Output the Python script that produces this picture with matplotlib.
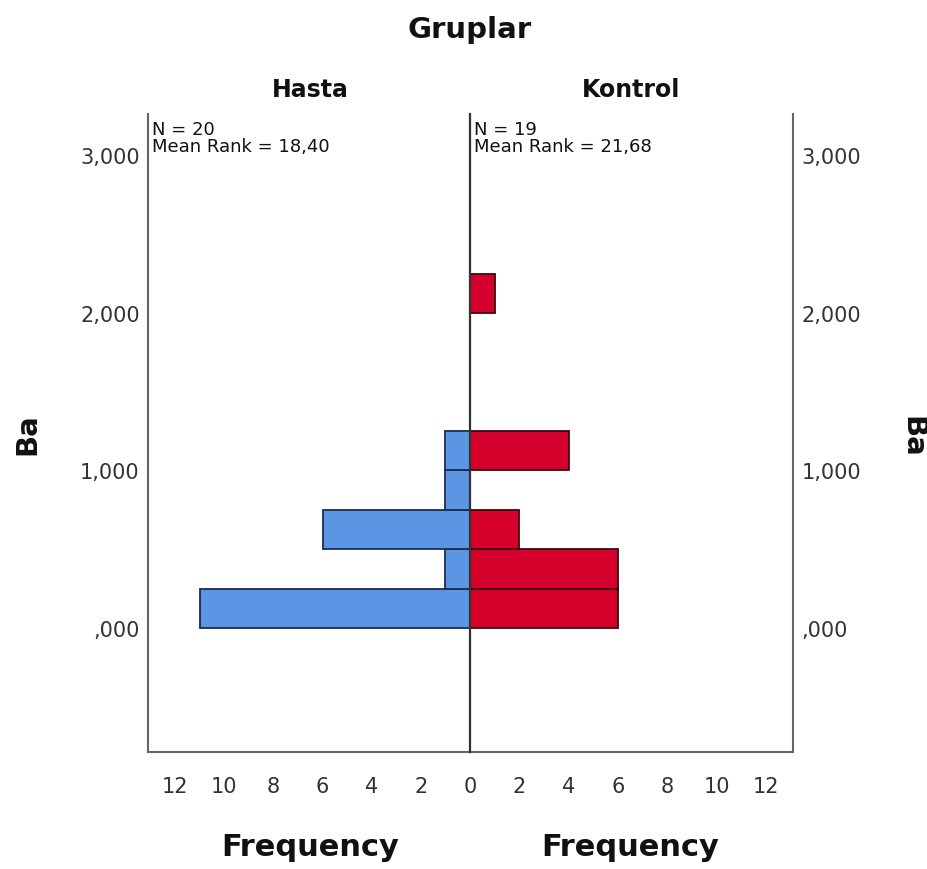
import numpy as np
import matplotlib
matplotlib.use("Agg")
import matplotlib.pyplot as plt
from matplotlib.ticker import FuncFormatter, FixedLocator

plt.rcParams['font.family'] = ['DejaVu Sans']

# Histogram bins of Ba (width 0,25) and counts per group
bin_edges = [0.0, 0.25, 0.5, 0.75, 1.0, 1.25, 1.5, 1.75, 2.0, 2.25]
hasta_counts = [11, 1, 6, 1, 1, 0, 0, 0, 0]
kontrol_counts = [6, 6, 2, 0, 4, 0, 0, 0, 1]
group_names = ["Hasta", "Kontrol"]
group_n = [20, 19]
mean_ranks = ["18,40", "21,68"]
y_ticks = [0.0, 1.0, 2.0, 3.0]
x_ticks_left = [12, 10, 8, 6, 4, 2, 0]
x_ticks_right = [2, 4, 6, 8, 10, 12]

BLUE = "#5a96e3"
BLUE_EDGE = "#1d2b50"
RED = "#d4002b"
RED_EDGE = "#3d0510"
AXIS_COL = "#666666"
TICK_COL = "#333333"

W, H = 927, 870
fig = plt.figure(figsize=(W / 100, H / 100), dpi=100)


def fx(px):
    return px / W


def fy(py):
    return 1 - py / H


ax_left = fig.add_axes([fx(148), fy(753), fx(470 - 148), (753 - 115) / H])
ax_right = fig.add_axes([fx(470), fy(753), fx(793 - 470), (753 - 115) / H])
ax_right.patch.set_alpha(0)

y_min, y_max = -0.787, 3.263
x_max = 13.1

lefts = np.array(bin_edges[:-1])
heights = np.diff(bin_edges)


def draw_bars(ax, counts, face, edge):
    counts = np.asarray(counts)
    keep = counts > 0
    ax.barh(lefts[keep], counts[keep], height=heights[keep], align="edge",
            color=face, edgecolor=edge, linewidth=1.3, zorder=2)


draw_bars(ax_left, hasta_counts, BLUE, BLUE_EDGE)
draw_bars(ax_right, kontrol_counts, RED, RED_EDGE)


def ba_fmt(v, pos):
    s = f"{v:.3f}".replace(".", ",")
    if s.startswith("0,"):
        s = s[1:]
    return s


for ax in (ax_left, ax_right):
    ax.set_ylim(y_min, y_max)
    ax.yaxis.set_major_locator(FixedLocator(y_ticks))
    ax.yaxis.set_major_formatter(FuncFormatter(ba_fmt))
    ax.spines["top"].set_visible(False)
    ax.tick_params(axis="both", length=0, labelsize=15, colors=TICK_COL)
    ax.tick_params(axis="x", pad=17)
    ax.tick_params(axis="y", pad=6)
    for sp in ax.spines.values():
        sp.set_color(AXIS_COL)
        sp.set_linewidth(1.5)

ax_left.set_xlim(x_max, 0)
ax_left.set_xticks(x_ticks_left)
ax_left.spines["right"].set_visible(False)

ax_right.set_xlim(0, x_max)
ax_right.set_xticks(x_ticks_right)
ax_right.spines["left"].set_color("#333333")
ax_right.spines["left"].set_linewidth(1.6)
ax_right.spines["left"].set_zorder(3)
ax_right.yaxis.tick_right()

# Group statistics in the top-left corner of each panel
for ax, n, mr in zip((ax_left, ax_right), group_n, mean_ranks):
    ax.text(4 / 322, 1 - 6 / 638, f"N = {n}", transform=ax.transAxes,
            ha="left", va="top", fontsize=13, color="#111111")
    ax.text(4 / 322, 1 - 23 / 638, f"Mean Rank = {mr}", transform=ax.transAxes,
            ha="left", va="top", fontsize=13, color="#111111")

fig.text(fx(470), fy(30), "Gruplar", ha="center", va="center",
         fontsize=21, fontweight="bold", color="#111111")
fig.text(fx(310), fy(90), group_names[0], ha="center", va="center",
         fontsize=17, fontweight="bold", color="#111111")
fig.text(fx(631), fy(90), group_names[1], ha="center", va="center",
         fontsize=17, fontweight="bold", color="#111111")
fig.text(fx(27), fy(434), "Ba", ha="center", va="center", rotation=90,
         fontsize=21, fontweight="bold", color="#111111")
fig.text(fx(912), fy(437), "Ba", ha="center", va="center", rotation=-90,
         fontsize=21, fontweight="bold", color="#111111")
fig.text(fx(310), fy(848), "Frequency", ha="center", va="center",
         fontsize=22, fontweight="bold", color="#111111")
fig.text(fx(630), fy(848), "Frequency", ha="center", va="center",
         fontsize=22, fontweight="bold", color="#111111")

fig.savefig("out.png", dpi=100, facecolor="white")
